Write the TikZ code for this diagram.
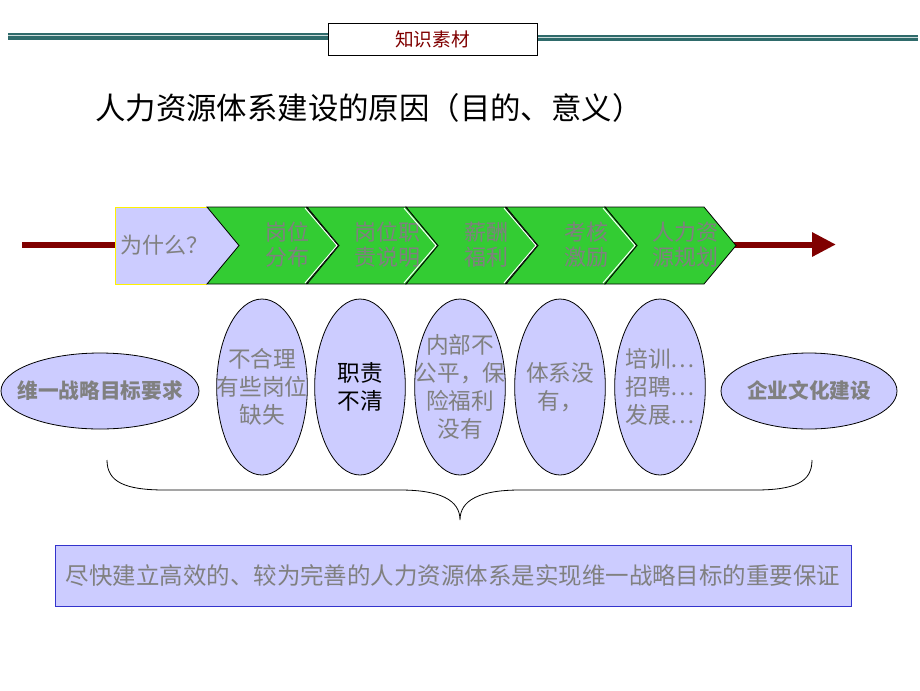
\documentclass[tikz,border=0pt]{standalone}
\usepackage{fontspec}
\newfontfamily\cjk{Noto Sans CJK SC}
\usetikzlibrary{shapes.geometric}
\usetikzlibrary{arrows.meta}

\definecolor{paleblue}{RGB}{204,204,255}
\definecolor{chevgreen}{RGB}{51,204,51}
\definecolor{greytext}{RGB}{128,128,128}
\definecolor{darkred}{RGB}{128,0,0}
\definecolor{tealline}{RGB}{47,107,107}
\definecolor{boxblue}{RGB}{51,51,204}

\tikzset{
  chevron/.style={fill=chevgreen, draw=black, line width=0.6pt},
  stagetext/.style={text=greytext, inner sep=0pt, align=center, font=\cjk\fontsize{16.5}{18.75}\selectfont},
  reason/.style={ellipse, draw, fill=paleblue, line width=0.6pt, minimum width=68pt, minimum height=132pt, inner sep=0pt},
  reasontext/.style={inner sep=0pt, align=center, font=\cjk\fontsize{17}{21}\selectfont},
  goal/.style={ellipse, draw, fill=paleblue, line width=0.6pt, minimum height=57pt, inner sep=0pt},
  goaltext/.style={inner sep=0pt, text=greytext, font=\cjk\bfseries\fontsize{15.5}{18}\selectfont}
}

\begin{document}
\begin{tikzpicture}[x=0.75pt,y=-0.75pt]
\useasboundingbox (0,0) rectangle (920,690);
%\draw[step=50] (0,0) grid (920,690);

% header rule
\fill[tealline] (8,33) rectangle (328,39.5);
\fill[white!75!tealline] (8,35) rectangle (328,36.3);
\fill[tealline] (537,35) rectangle (918,40.7);
\fill[white!75!tealline] (537,36.7) rectangle (918,37.9);
\node[draw, fill=white, line width=0.6pt, minimum width=156.75pt, minimum height=24pt, inner sep=0pt,
      text=darkred, font=\cjk\fontsize{14}{14}\selectfont] (header) at (432.5,39) {知识素材};

\node[anchor=west, inner sep=0pt, font=\cjk\fontsize{22.8}{24}\selectfont] (title) at (95,108)
  {人力资源体系建设的原因（目的、意义）};

% arrow behind the stages
\coordinate (arrowstart) at (22,244.5);
\coordinate (arrowend) at (836,244.5);
\draw[darkred, line width=4.5pt, -{Triangle[length=18pt,width=17.25pt]}] (arrowstart) -- (arrowend);

% why box
\fill[paleblue] (115,207) -- (207,207) -- (239,245.5) -- (207,284) -- (115,284) -- cycle;
\draw[yellow, line width=0.5pt] (207,207) -- (115,207) -- (115,284) -- (207,284);
\node[stagetext, font=\cjk\fontsize{16.5}{18}\selectfont] (why) at (164,245.5) {为什么？};

% stages
\foreach \s/\txt in {207/{岗位\\分布}, 307/{岗位职\\责说明}, 406/{薪酬\\福利}, 506/{考核\\激励}, 605/{人力资\\源规划}} {
  \draw[chevron] (\s,207) -- ++(99,0) -- ++(32,38.5) -- ++(-32,38.5) -- ++(-99,0) -- ++(32,-38.5) -- cycle;
  \node[stagetext] (stage\s) at (\s+80,244.5) {\txt};
}
\foreach \s in {307,406,506,605}
  \draw[white, line width=0.7pt] (\s-2,208) -- (\s+30,245.5) -- (\s-2,283);

% reasons
\foreach \x/\col/\txt [count=\i] in {262/greytext/{不合理\\有些岗位\\缺失}, 360/black/{职责\\不清},
    460/greytext/{内部不\\公平，保\\险福利\\没有}, 560/greytext/{体系没\\有，}, 660/greytext/{培训…\\招聘…\\发展…}} {
  \node[reason] (reason\i) at (\x,387) {};
  \node[reasontext, text=\col] (reasontext\i) at (reason\i) {\txt};
}

\node[goal, minimum width=148.5pt] (strategy) at (100,391) {};
\node[goaltext] (strategytext) at (strategy) {维一战略目标要求};
\node[goal, minimum width=132pt] (culture) at (809,391) {};
\node[goaltext] (culturetext) at (culture) {企业文化建设};

% brace
\draw[line width=0.6pt] (107,460) .. controls (107,482) and (125,490) .. (165,490) -- (400,490)
  .. controls (440,490) and (460,500) .. (460,520) .. controls (460,500) and (480,490) .. (520,490)
  -- (755,490) .. controls (795,490) and (812,482) .. (812,460);

\node[draw=boxblue, fill=paleblue, line width=0.6pt, minimum width=597pt, minimum height=45.75pt, inner sep=0pt,
      text=greytext, font=\cjk\fontsize{17.6}{20}\selectfont] (conclusion) at (453,575.5)
  {尽快建立高效的、较为完善的人力资源体系是实现维一战略目标的重要保证};
\end{tikzpicture}
\end{document}
